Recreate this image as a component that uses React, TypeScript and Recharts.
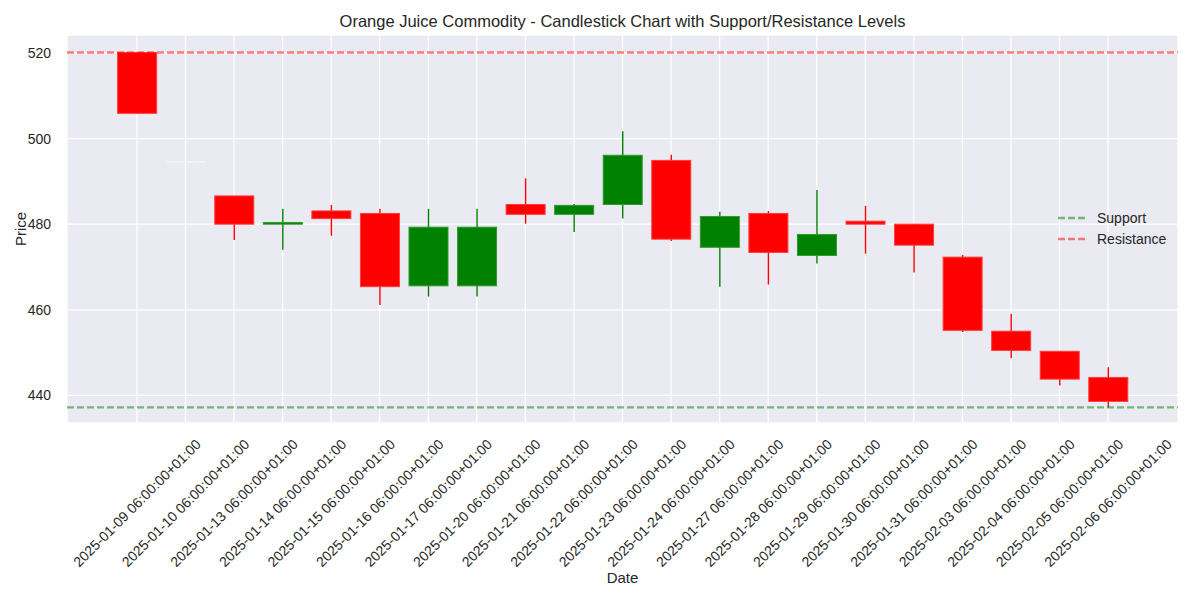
import React from "react";
import { ComposedChart, Bar, XAxis, YAxis, CartesianGrid, ReferenceLine } from "recharts";

const dates = [
  "2025-01-09 06:00:00+01:00", "2025-01-10 06:00:00+01:00", "2025-01-13 06:00:00+01:00",
  "2025-01-14 06:00:00+01:00", "2025-01-15 06:00:00+01:00", "2025-01-16 06:00:00+01:00",
  "2025-01-17 06:00:00+01:00", "2025-01-20 06:00:00+01:00", "2025-01-21 06:00:00+01:00",
  "2025-01-22 06:00:00+01:00", "2025-01-23 06:00:00+01:00", "2025-01-24 06:00:00+01:00",
  "2025-01-27 06:00:00+01:00", "2025-01-28 06:00:00+01:00", "2025-01-29 06:00:00+01:00",
  "2025-01-30 06:00:00+01:00", "2025-01-31 06:00:00+01:00", "2025-02-03 06:00:00+01:00",
  "2025-02-04 06:00:00+01:00", "2025-02-05 06:00:00+01:00", "2025-02-06 06:00:00+01:00",
];
const opens = [520.1, 494.6, 486.6, 480.0, 483.1, 482.5, 465.6, 465.6, 484.6, 482.3, 484.6, 494.9, 474.6, 482.5, 472.7, 480.7, 480.0, 472.3, 455.0, 450.3, 444.2];
const highs = [520.1, 494.6, 486.6, 483.6, 484.5, 483.6, 483.6, 483.6, 490.7, 484.7, 501.7, 496.2, 482.9, 483.1, 488.0, 484.3, 480.0, 472.8, 459.1, 450.3, 446.6];
const lows = [505.9, 494.6, 476.3, 474.0, 477.3, 461.1, 463.1, 463.1, 480.1, 478.2, 481.3, 476.1, 465.4, 465.9, 470.8, 473.1, 468.7, 454.8, 448.7, 442.3, 437.2];
const closes = [505.9, 494.6, 480.0, 480.4, 481.3, 465.4, 479.3, 479.3, 482.3, 484.4, 496.1, 476.5, 481.8, 473.4, 477.6, 480.0, 475.1, 455.2, 450.5, 443.8, 438.6];

const supportLevel = 437.2;
const resistanceLevel = 520.1;
const yTicks = [440, 460, 480, 500, 520];
const legendItems = [
  { name: "Support", color: "#008000" },
  { name: "Resistance", color: "#ff0000" },
];
const title = "Orange Juice Commodity - Candlestick Chart with Support/Resistance Levels";

const rows = dates.map((d, i) => ({
  idx: i,
  date: d,
  open: opens[i],
  high: highs[i],
  low: lows[i],
  close: closes[i],
}));
const xTicks = rows.map((r) => r.idx);

const FONT = '"Liberation Sans", Arial, "DejaVu Sans", sans-serif';
const TXT = "#262626";

const Candle = (props: any) => {
  const { x, y, width, height, payload } = props;
  if (!payload) return null;
  const { open, close, high, low } = payload;
  const cx = x + width / 2;
  const top = Math.min(y, y + height);
  const h = Math.abs(height);
  if (high === low || h === 0) {
    return <line x1={x} x2={x + width} y1={top} y2={top} stroke="#f4f4f6" strokeWidth={1.5} />;
  }
  const ratio = h / (high - low);
  const yOf = (v: number) => top + (high - v) * ratio;
  const up = close >= open;
  const color = up ? "#008000" : "#ff0000";
  const edge = up ? "#2e9a2e" : "#ff3b3b";
  const bTop = yOf(Math.max(open, close));
  const bBot = yOf(Math.min(open, close));
  const bh = Math.max(bBot - bTop, 1.5);
  return (
    <g>
      <line x1={cx} x2={cx} y1={yOf(high)} y2={yOf(low)} stroke={color} strokeWidth={1.4} />
      <rect x={x} y={bTop} width={width} height={bh} fill={color} stroke={edge} strokeWidth={1} />
    </g>
  );
};

const XTick = (props: any) => {
  const { x, payload } = props;
  const cy = 503;
  return (
    <text
      x={x}
      y={cy}
      transform={`rotate(-45, ${x}, ${cy})`}
      textAnchor="middle"
      dominantBaseline="central"
      fontSize={14}
      fontFamily={FONT}
      fill={TXT}
    >
      {dates[payload.value]}
    </text>
  );
};

export default function App() {
  return (
    <div style={{ position: "absolute", left: 0, top: 0, width: 1200, height: 600, background: "#fff", fontFamily: FONT }}>
      <div
        style={{
          position: "absolute",
          left: 67,
          width: 1111,
          top: 11,
          textAlign: "center",
          fontSize: 16.5,
          lineHeight: "20px",
          color: TXT,
        }}
      >
        {title}
      </div>
      <ComposedChart width={1200} height={600} data={rows} margin={{ top: 35, right: 22, bottom: 0, left: 0 }}>
        <CartesianGrid fill="#EAEAF2" stroke="#ffffff" strokeWidth={1.3} />
        <XAxis
          type="number"
          dataKey="idx"
          domain={[-1.44, 21.44]}
          ticks={xTicks}
          interval={0}
          allowDataOverflow
          tickLine={false}
          axisLine={false}
          height={177}
          tick={<XTick />}
          label={{
            content: (p: any) => {
              const vb = p.viewBox || { x: 67, y: 423, width: 1111 };
              return (
                <text x={vb.x + vb.width / 2} y={vb.y + 154} textAnchor="middle" dominantBaseline="central" fontSize={15} fontFamily={FONT} fill={TXT}>
                  Date
                </text>
              );
            },
          }}
        />
        <YAxis
          type="number"
          domain={[433.55, 524.2]}
          ticks={yTicks}
          allowDataOverflow
          tickLine={false}
          axisLine={false}
          width={67}
          tickMargin={10}
          tick={{ fontSize: 14, fill: TXT, fontFamily: FONT }}
          label={{
            content: (p: any) => {
              const vb = p.viewBox || { x: 0, y: 35, height: 388 };
              const cx = 20;
              const cy = vb.y + vb.height / 2;
              return (
                <text x={cx} y={cy} transform={`rotate(-90, ${cx}, ${cy})`} textAnchor="middle" dominantBaseline="central" fontSize={15} fontFamily={FONT} fill={TXT}>
                  Price
                </text>
              );
            },
          }}
        />
        <ReferenceLine y={supportLevel} stroke="#008000" strokeOpacity={0.5} strokeWidth={2.4} strokeDasharray="7 3" />
        <ReferenceLine y={resistanceLevel} stroke="#ff0000" strokeOpacity={0.5} strokeWidth={2.4} strokeDasharray="7 3" />
        <Bar
          dataKey={(d: any) => [d.low, d.high]}
          barSize={39}
          shape={<Candle />}
          isAnimationActive={false}
        />
      </ComposedChart>
      <div style={{ position: "absolute", left: 1056, top: 207, fontSize: 14, color: TXT }}>
        {legendItems.map((it) => (
          <div key={it.name} style={{ display: "flex", alignItems: "center", height: 21 }}>
            <svg width={30} height={10} style={{ marginRight: 11 }}>
              <line x1={2} x2={29} y1={5} y2={5} stroke={it.color} strokeOpacity={0.5} strokeWidth={2.4} strokeDasharray="7 3" />
            </svg>
            <span>{it.name}</span>
          </div>
        ))}
      </div>
    </div>
  );
}
